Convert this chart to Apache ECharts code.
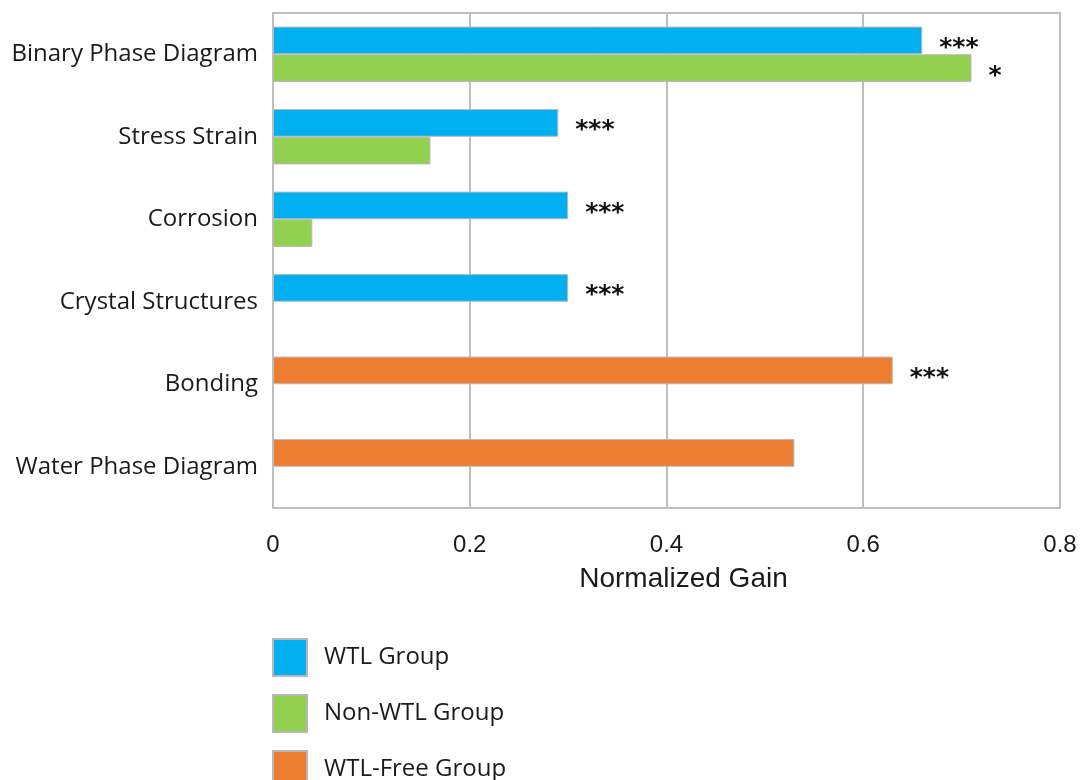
<!DOCTYPE html>
<html>
<head>
<meta charset="utf-8">
<script src="https://cdn.jsdelivr.net/npm/echarts@6/dist/echarts.min.js"></script>
<style>
  html, body { margin: 0; padding: 0; background: #fff; }
  #chart { width: 1081px; height: 780px; }
</style>
</head>
<body>
<div id="chart"></div>
<script>
// ---- data ----
const categories = ['Binary Phase Diagram', 'Stress Strain', 'Corrosion', 'Crystal Structures', 'Bonding', 'Water Phase Diagram'];
const wtlGroup     = [0.66, 0.29, 0.30, 0.30, '-', '-'];
const nonWtlGroup  = [0.71, 0.16, 0.04, '-', '-', '-'];
const wtlFreeGroup = ['-', '-', '-', '-', 0.63, 0.53];
const sigWtl     = ['***', '***', '***', '***', '', ''];
const sigNonWtl  = ['*', '', '', '', '', ''];
const sigWtlFree = ['', '', '', '', '***', ''];
const xTicks = [0, 0.2, 0.4, 0.6, 0.8];
const seriesNames = ['WTL Group', 'Non-WTL Group', 'WTL-Free Group'];

// ---- chart ----
const chart = echarts.init(document.getElementById('chart'), null, { renderer: 'canvas' });

function starLabel(sig) {
  return {
    show: true,
    position: 'right',
    distance: 17,
    offset: [0, 8],
    fontFamily: 'DejaVu Sans',
    fontSize: 25,
    fontWeight: 'bold',
    color: '#111',
    formatter: p => sig[p.dataIndex]
  };
}

const barBorder = { borderColor: '#b8b8b8', borderWidth: 1 };

chart.setOption({
  animation: false,
  backgroundColor: '#fff',
  grid: { left: 273, right: 21, top: 13, bottom: 272, containLabel: false,
          show: true, borderColor: '#bfbfbf', borderWidth: 2 },
  legend: {
    orient: 'vertical',
    left: 267, top: 633, height: 200,
    itemWidth: 34, itemHeight: 37, itemGap: 17,
    data: seriesNames,
    textStyle: { fontFamily: 'Open Sans', fontSize: 24, color: '#1a1a1a', padding: [0, 0, 0, 12] },
    icon: 'rect'
  },
  xAxis: {
    type: 'value',
    min: xTicks[0], max: xTicks[xTicks.length - 1], interval: 0.2,
    axisLine: { show: false },
    axisTick: { show: false },
    splitLine: { show: true, lineStyle: { color: '#bfbfbf', width: 2 } },
    axisLabel: { margin: 25, fontFamily: 'Liberation Sans', fontSize: 24, color: '#1a1a1a',
                 formatter: v => String(+v.toFixed(1)) },
    name: 'Normalized Gain',
    nameLocation: 'middle',
    nameGap: 57,
    nameTextStyle: { fontFamily: 'Liberation Sans', fontSize: 28, color: '#1a1a1a', padding: [0, 0, 0, 34] }
  },
  yAxis: {
    type: 'category',
    inverse: true,
    data: categories,
    axisLine: { show: true, lineStyle: { color: '#bfbfbf', width: 2 } },
    axisTick: { show: false },
    axisLabel: { margin: 15, fontFamily: 'Open Sans', fontSize: 24, color: '#1a1a1a' }
  },
  series: [
    {
      name: seriesNames[0], type: 'bar', stack: 'wtl', data: wtlGroup,
      barCategoryGap: '33%', barGap: '0%',
      itemStyle: Object.assign({ color: '#00b0f0' }, barBorder),
      label: starLabel(sigWtl)
    },
    {
      name: seriesNames[1], type: 'bar', data: nonWtlGroup,
      barCategoryGap: '33%', barGap: '0%',
      itemStyle: Object.assign({ color: '#92d050' }, barBorder),
      label: starLabel(sigNonWtl)
    },
    {
      name: seriesNames[2], type: 'bar', stack: 'wtl', data: wtlFreeGroup,
      barCategoryGap: '33%', barGap: '0%',
      itemStyle: Object.assign({ color: '#ed7d31' }, barBorder),
      label: starLabel(sigWtlFree)
    }
  ]
});
</script>
</body>
</html>
